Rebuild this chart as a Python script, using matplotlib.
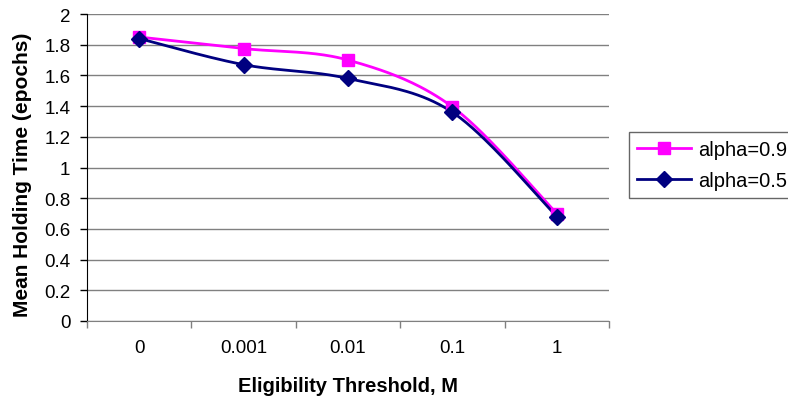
import numpy as np
import matplotlib.pyplot as plt
from matplotlib.ticker import FixedLocator, NullFormatter

# Data
categories = ["0", "0.001", "0.01", "0.1", "1"]
alpha_09 = [1.85, 1.775, 1.70, 1.395, 0.70]
alpha_05 = [1.84, 1.67, 1.58, 1.36, 0.68]

plt.rcParams['font.family'] = ['Liberation Sans', 'DejaVu Sans']


def smooth_curve(xs, ys, n=40):
    """Excel-style smoothed line: cubic Bezier segments with 1/6 tangents."""
    pts = np.column_stack([xs, ys]).astype(float)
    ext = np.vstack([pts[0], pts, pts[-1]])
    out = []
    t = np.linspace(0, 1, n)[:, None]
    for i in range(len(pts) - 1):
        p0, p1, p2, p3 = ext[i], ext[i + 1], ext[i + 2], ext[i + 3]
        c1 = p1 + (p2 - p0) / 6
        c2 = p2 - (p3 - p1) / 6
        seg = ((1 - t) ** 3) * p1 + 3 * ((1 - t) ** 2) * t * c1 + 3 * (1 - t) * t ** 2 * c2 + t ** 3 * p2
        out.append(seg if i == 0 else seg[1:])
    seg = np.vstack(out)
    return seg[:, 0], seg[:, 1]


fig = plt.figure(figsize=(7.88, 4.02), dpi=100)
ax = fig.add_axes([87 / 788, 80 / 402, 522 / 788, 307 / 402])

x = np.arange(len(categories))

series = [
    ("alpha=0.9", alpha_09, "#FF00FF", "s", 8.5),
    ("alpha=0.5", alpha_05, "#000080", "D", 8.5),
]
for label, vals, color, marker, ms in series:
    sx, sy = smooth_curve(x, vals)
    ax.plot(sx, sy, color=color, lw=2.0, zorder=3)
    ax.plot(x, vals, linestyle="none", marker=marker, ms=ms, color=color, zorder=4)
    ax.plot([], [], color=color, lw=2.0, marker=marker, ms=ms, label=label)

ax.set_xlim(-0.5, len(categories) - 0.5)
ax.set_ylim(0, 2)
ax.set_yticks(np.arange(0, 2.01, 0.2))
ax.set_yticklabels(["0", "0.2", "0.4", "0.6", "0.8", "1", "1.2", "1.4", "1.6", "1.8", "2"])
ax.yaxis.grid(True, color="#808080", lw=1)
ax.set_axisbelow(True)

ax.set_xticks(x)
ax.set_xticklabels(categories)
ax.tick_params(axis="x", which="major", length=0, pad=13, labelsize=13.5)
ax.xaxis.set_minor_locator(FixedLocator(np.arange(-0.5, len(categories), 1.0)))
ax.xaxis.set_minor_formatter(NullFormatter())
ax.tick_params(axis="x", which="minor", length=5, color="#808080", width=1)
ax.tick_params(axis="y", length=5, width=1, labelsize=13.5, pad=7)

for s in ("top", "right"):
    ax.spines[s].set_visible(False)
ax.spines["bottom"].set_color("#808080")
ax.spines["left"].set_color("black")

ax.set_xlabel("Eligibility Threshold, M", fontsize=14.5, fontweight="bold")
ax.set_ylabel("Mean Holding Time (epochs)", fontsize=15, fontweight="bold")
ax.xaxis.set_label_coords(0.5, -0.179)
ax.yaxis.set_label_coords(-0.1054, 0.479)

leg = ax.legend(loc="center left", bbox_to_anchor=(629 / 788, 236 / 402),
                bbox_transform=fig.transFigure, fontsize=14.5, frameon=True,
                fancybox=False, edgecolor="#404040", handlelength=2.7,
                borderpad=0.4, labelspacing=0.6, handletextpad=0.35, borderaxespad=0)
leg.get_frame().set_linewidth(1)

fig.savefig("out.png", dpi=100)
